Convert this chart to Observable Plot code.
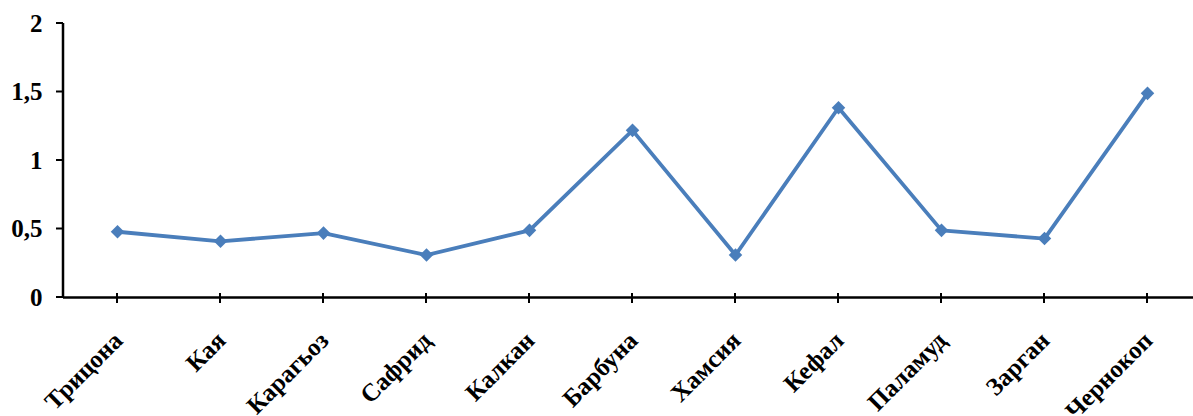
<!DOCTYPE html>
<html>
<head>
<meta charset="utf-8">
<script src="https://cdn.jsdelivr.net/npm/d3@7"></script>
<script src="https://cdn.jsdelivr.net/npm/@observablehq/plot@0.6"></script>
<style>
  html, body { margin: 0; padding: 0; background: #fff; }
  svg { display: block; }
  svg text { font-family: "Liberation Serif", "Times New Roman", serif; font-weight: bold; }
</style>
</head>
<body>
<div id="chart"></div>
<script>
// Fish species shown along the x axis
const species = ["Трицона", "Кая", "Карагьоз", "Сафрид", "Калкан", "Барбуна", "Хамсия", "Кефал", "Паламуд", "Зарган", "Чернокоп"];
// Measured value for each species
const values = [0.48, 0.41, 0.47, 0.31, 0.49, 1.22, 0.31, 1.385, 0.49, 0.43, 1.49];
// Y axis ticks
const yTicks = [0, 0.5, 1, 1.5, 2];

const rows = species.map((s, i) => ({species: s, value: values[i]}));
const blue = "#4a7ebb";
const font = "Liberation Serif";
const comma = d => String(d).replace(".", ",");

// Vertical axis line on the left edge of the frame
const leftAxisLine = (index, scales, vals, dims) => {
  const g = d3.create("svg:line")
    .attr("x1", dims.marginLeft).attr("x2", dims.marginLeft)
    .attr("y1", dims.marginTop).attr("y2", dims.height - dims.marginBottom + 1)
    .attr("stroke", "#000").attr("stroke-width", 2.5);
  return g.node();
};

const chart = Plot.plot({
  width: 1193,
  height: 416,
  marginLeft: 63,
  marginRight: -7,
  marginTop: 23,
  marginBottom: 119,
  style: {fontFamily: font, background: "#fff", overflow: "visible"},
  x: {type: "point", domain: species, padding: 0.5, axis: null},
  y: {domain: [0, 2], axis: null},
  marks: [
    Plot.ruleY([0], {stroke: "#000", strokeWidth: 2.5}),
    leftAxisLine,
    // y ticks on the outside of the axis
    Plot.tickY(yTicks, {y: d => d,
      render: (index, scales, vals, dims) => {
        const g = d3.create("svg:g");
        for (const i of index) {
          const y = vals.y[i];
          g.append("line").attr("x1", dims.marginLeft - 7).attr("x2", dims.marginLeft)
            .attr("y1", y).attr("y2", y).attr("stroke", "#000").attr("stroke-width", 2);
        }
        return g.node();
      }}),
    Plot.text(yTicks, {
      y: d => d, text: comma, frameAnchor: "left", dx: -21, textAnchor: "end",
      fontFamily: font, fontSize: 25, fontWeight: "bold", fill: "#000"
    }),
    // x ticks crossing the baseline
    Plot.tickX(species, {x: d => d,
      render: (index, scales, vals, dims) => {
        const g = d3.create("svg:g");
        const y0 = scales.y(0);
        for (const i of index) {
          const x = vals.x[i];
          g.append("line").attr("x1", x).attr("x2", x)
            .attr("y1", y0 - 4).attr("y2", y0 + 6).attr("stroke", "#000").attr("stroke-width", 2);
        }
        return g.node();
      }}),
    // rotated category labels
    Plot.text(species, {
      x: d => d, y: 0, text: d => d, rotate: -45, textAnchor: "end", lineAnchor: "top",
      dx: -6, dy: 32, fontFamily: font, fontSize: 25, fontWeight: "bold", fill: "#000"
    }),
    Plot.lineY(rows, {x: "species", y: "value", stroke: blue, strokeWidth: 3.8}),
    Plot.dot(rows, {x: "species", y: "value", symbol: "square", rotate: 45, r: 5.4, fill: blue, stroke: null})
  ]
});
document.getElementById("chart").append(chart);
</script>
</body>
</html>
